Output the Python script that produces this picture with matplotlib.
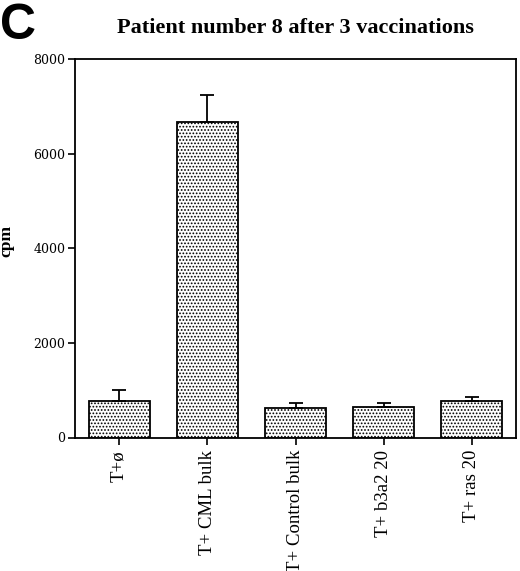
import matplotlib
matplotlib.use('Agg')
import matplotlib.pyplot as plt

# data
labels = ["T+ø", "T+ CML bulk", "T+ Control bulk", "T+ b3a2 20", "T+ ras 20"]
cpm = [780, 6670, 620, 655, 780]
err = [230, 560, 100, 75, 80]

W, H = 520, 571
fig = plt.figure(figsize=(W / 100, H / 100), dpi=100)
ax = fig.add_axes([75 / W, 1 - 437.5 / H, (516 - 75) / W, (437.5 - 59) / H])

plt.rcParams['hatch.linewidth'] = 0.8
x = list(range(len(labels)))
ax.bar(x, cpm, width=0.69, color='white', edgecolor='black',
       linewidth=1.3, hatch='.....', zorder=2)
ax.errorbar(x, cpm, yerr=[[0] * len(err), err], fmt='none', ecolor='black',
            elinewidth=1.3, capsize=5, capthick=1.3, zorder=3)

ax.set_xlim(-0.5, 4.5)
ax.set_ylim(0, 8000)
ax.set_yticks([0, 2000, 4000, 6000, 8000])
ax.set_xticks(x)
ax.set_xticklabels(labels, rotation=90, family='Liberation Serif', fontsize=13.5)
for t in ax.get_yticklabels():
    t.set_family('DejaVu Serif')
    t.set_fontsize(9)
ax.tick_params(axis='both', direction='out', length=5, width=1.2, color='black')
ax.tick_params(axis='x', pad=4)
ax.tick_params(axis='y', pad=2)
for s in ax.spines.values():
    s.set_linewidth(1.3)

ax.set_ylabel("cpm", family='Liberation Serif', fontweight='bold', fontsize=12.5)
ax.yaxis.set_label_coords(-0.137, 0.52)

fig.text(295 / W, 1 - 28 / H, "Patient number 8 after 3 vaccinations",
         family='Liberation Serif', fontweight='bold', fontsize=16,
         ha='center', va='center')
fig.text(0, 1 - 39 / H, "C", family='Liberation Sans', fontweight='bold',
         fontsize=36, ha='left', va='baseline')

fig.savefig("out.png", dpi=100)
